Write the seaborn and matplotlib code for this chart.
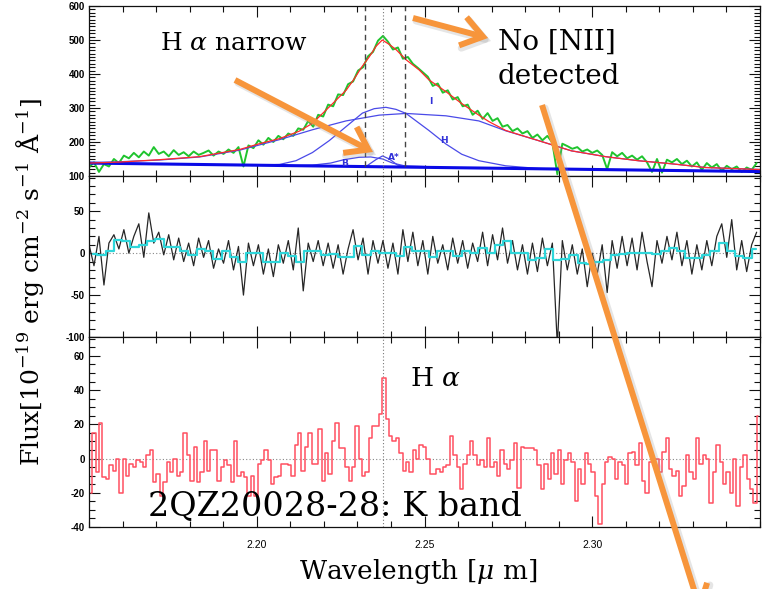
import numpy as np
import matplotlib
matplotlib.use("Agg")
import matplotlib.pyplot as plt
import seaborn as sns
from matplotlib.patches import FancyArrowPatch
from matplotlib.ticker import MultipleLocator

# ---------------- data ----------------
# top panel: observed spectrum (green), sampled every ~5 px
spec_flux = [125,140,112,135,128,150,138,160,152,168,
             155,172,160,185,165,172,158,176,162,170,
             158,172,162,168,175,160,172,165,178,168,
             185,128,190,182,205,192,212,200,218,208,
             225,218,240,236,262,245,280,275,310,305,
             340,338,370,378,410,420,452,465,498,512,
             495,472,478,445,450,430,418,405,392,365,
             372,345,352,325,332,305,310,280,292,268,
             285,262,270,245,250,232,240,225,232,212,
             222,205,218,198,105,195,188,180,185,172,
             178,168,175,162,120,170,158,168,152,160,
             148,158,140,112,150,110,148,140,150,135,
             145,128,140,118,138,125,135,115,130,120,
             128,112,125,118,138]
spec_wave_range = (2.150, 2.349)

# total model (red)
model_wave = [2.1500,2.1592,2.1711,2.1830,2.1949,2.2008,2.2068,2.2127,2.2166,
              2.2216,2.2267,2.2290,2.2314,2.2335,2.2356,2.2374,2.2395,2.2415,
              2.2445,2.2484,2.2513,2.2564,2.2611,2.2662,2.2692,2.2742,2.2840,
              2.2938,2.3039,2.3137,2.3236,2.3337,2.3500]
model_flux = [138,141,148,157,178,195,210,232,255,303,353,385,422,450,482,500,
              487,472,442,412,383,348,313,279,260,234,204,174,157,145,136,125,119]

# continuum (thick blue)
cont_wave = [2.150, 2.350]
cont_flux = [138, 113]

# broad component "I" (incl. continuum)
compI_wave = [2.1500,2.1711,2.1830,2.1949,2.2068,2.2166,2.2266,2.2365,2.2445,
              2.2564,2.2662,2.2742,2.2840,2.2938,2.3039,2.3137,2.3236,2.3337,2.3500]
compI_flux = [138,147,156,176,207,236,262,279,284,277,262,233,204,174,157,145,136,125,119]

# component "H"
compH_wave = [2.1985,2.2068,2.2117,2.2166,2.2216,2.2266,2.2315,2.2350,2.2385,
              2.2415,2.2445,2.2513,2.2564,2.2611,2.2662,2.2742,2.2840,2.3000]
compH_flux = [131,134,145,169,204,245,285,298,302,296,284,234,194,164,145,130,122,119]

# component "B"
compB_wave = [2.2100,2.2166,2.2220,2.2260,2.2305,2.2340,2.2375,2.2405,2.2440,2.2500]
compB_flux = [130,132,138,148,155,156,150,138,130,128]

# narrow component "A*"
compA_wave = [2.2300,2.2330,2.2355,2.2375,2.2395,2.2420,2.2450]
compA_flux = [128,131,148,159,150,132,128]

comp_labels = ["I", "H", "B", "A*"]
comp_label_wave = [2.2518, 2.2558, 2.2263, 2.2409]
comp_label_flux = [318, 204, 137, 154]

# line markers
line_center = 2.2375
line_window = [2.2323, 2.2442]

# middle panel: residual (black) and binned residual (cyan)
resid_flux = [10,-15,20,-38,12,22,5,28,0,20,
              35,-5,48,12,25,-2,22,-8,18,-10,
              12,-15,18,-5,15,-18,5,-12,15,-20,
              8,-50,12,-15,10,-25,5,-28,10,-12,
              15,-20,30,-45,12,-10,15,-15,12,-18,
              10,-25,5,28,-8,18,-25,15,-12,15,
              -18,12,-25,28,-10,25,-15,15,-25,20,
              -12,10,-20,18,-12,15,-18,12,-10,25,
              -15,22,-8,30,-12,15,-20,10,-25,12,
              -22,18,-15,12,-110,15,-20,10,-25,5,
              -40,0,-25,10,-47,15,-18,20,-15,18,
              -20,25,-10,-40,15,-12,20,-8,25,-15,
              15,-25,10,-20,15,-15,20,35,-5,40,
              -20,15,-22,10,25]
binned_resid = [-1,-2,3,16,15,7,10,15,17,7,7,3,-2,5,2,-7,3,-5,-10,0,0,-10,-10,0,-3,
                -10,2,3,-2,-1,-5,-4,8,-2,3,0,0,-3,7,
                2,2,-4,2,2,-3,2,0,6,0,10,15,0,0,-8,-6,5,-8,-7,-2,-12,-13,-11,-8,-2,
                -1,0,0,0,-1,2,6,3,-6,-6,-2,3,12,2,-3,-6,5]

# bottom panel: narrow-line residual spectrum (red histogram)
narrow_flux = [-20,15,-8,21,-11,-12,-4,-7,0,-20,0,-10,-3,-5,-1,-2,-5,2,5,-14,
               -9,-22,-14,-2,-8,0,-10,-8,15,2,-13,7,-14,-8,10,-7,5,5,-13,-5,
               -1,-4,-14,10,-10,-8,-11,-22,-10,-22,-3,-1,5,-1,-15,-11,-10,-3,-3,-4,
               -10,8,15,-7,7,15,-3,-3,17,-13,3,-9,10,21,6,6,-5,-13,-5,19,
               0,-10,-8,12,19,19,26,47,23,13,10,12,
               3,-7,-2,-8,5,0,8,7,0,-9,-9,-6,-8,-5,-4,13,2,-5,-18,-3,
               2,10,2,-4,-1,-5,12,-5,-2,-10,5,-3,-6,-1,9,-17,7,6,6,6,
               5,-4,-18,-3,-12,3,-9,5,-15,-1,3,-2,-25,-6,-15,3,-3,-8,-22,-38,
               -15,-2,1,0,-12,-2,-4,-15,3,4,-4,9,-13,-20,-2,0,0,-8,4,12,
               -6,-10,-7,-22,-16,2,-8,-12,12,-3,2,0,-26,-8,8,-2,-15,-8,-20,0,
               -28,-5,2,-12,-18,-26,25]

x_ticks = [2.20, 2.25, 2.30]
x_tick_labels = ["2.20", "2.25", "2.30"]
top_yticks = [100, 200, 300, 400, 500, 600]
mid_yticks = [-100, -50, 0, 50]
bot_yticks = [-40, -20, 0, 20, 40, 60]

# ---------------- figure ----------------
sns.set_theme(style="white")
plt.rcParams["font.family"] = ["DejaVu Serif"]
plt.rcParams["mathtext.fontset"] = "dejavuserif"
plt.rcParams["text.color"] = "black"

W, H = 764, 589
fig = plt.figure(figsize=(W / 100, H / 100), dpi=100)
fig.patch.set_facecolor("white")


def box(l, t, r, b):
    return [l / W, 1 - b / H, (r - l) / W, (b - t) / H]


ax1 = fig.add_axes(box(89, 6, 760, 176))
ax2 = fig.add_axes(box(89, 176, 760, 337))
ax3 = fig.add_axes(box(89, 337, 760, 527))

spec_wave = np.linspace(spec_wave_range[0], spec_wave_range[1], len(spec_flux))
resid_wave = np.linspace(spec_wave_range[0], spec_wave_range[1], len(resid_flux))
nb = len(binned_resid)
binned_wave = np.linspace(2.15 + 0.1 / nb, 2.35 - 0.1 / nb, nb)
nn = len(narrow_flux)
narrow_wave = np.linspace(2.15 + 0.1 / nn, 2.35 - 0.1 / nn, nn)

blue_thin = "#4a4ae8"
# top panel
sns.lineplot(x=spec_wave, y=spec_flux, ax=ax1, color="#1fc42e", lw=1.4,
             estimator=None, sort=False)
for wv, fl in [(compI_wave, compI_flux), (compH_wave, compH_flux),
               (compB_wave, compB_flux), (compA_wave, compA_flux)]:
    sns.lineplot(x=wv, y=fl, ax=ax1, color=blue_thin, lw=0.9, estimator=None, sort=False)
sns.lineplot(x=cont_wave, y=cont_flux, ax=ax1, color="#0a0ae6", lw=2.2,
             estimator=None, sort=False)
sns.lineplot(x=model_wave, y=model_flux, ax=ax1, color="#ff2a2a", lw=0.9,
             estimator=None, sort=False)
for lab, lw_, lf in zip(comp_labels, comp_label_wave, comp_label_flux):
    ax1.text(lw_, lf, lab, color="#3030d8", fontsize=6.5, ha="center", va="center",
             family="DejaVu Sans", fontweight="bold")
for v in line_window:
    ax1.axvline(v, color="#444444", lw=1.0, ls=(0, (4, 3)))
ax1.axvline(line_center, color="#777777", lw=0.8, ls=(0, (1, 2)))

# middle panel
ax2.axhline(0, color="#888888", lw=0.8, ls=(0, (1, 2)))
ax2.axvline(line_center, color="#777777", lw=0.8, ls=(0, (1, 2)))
sns.lineplot(x=resid_wave, y=resid_flux, ax=ax2, color="#262626", lw=0.9,
             estimator=None, sort=False)
sns.lineplot(x=binned_wave, y=binned_resid, ax=ax2, color="#2ed6da", lw=1.6,
             estimator=None, sort=False, drawstyle="steps-mid")

# bottom panel
ax3.axhline(0, color="#888888", lw=0.8, ls=(0, (1, 2)))
ax3.axvline(line_center, color="#777777", lw=0.8, ls=(0, (1, 2)))
sns.lineplot(x=narrow_wave, y=narrow_flux, ax=ax3, color="#ff4f60", lw=1.1,
             estimator=None, sort=False, drawstyle="steps-mid")

# axes styling
limits = [(ax1, (100, 600), top_yticks, 100, 10),
          (ax2, (-100, 92), mid_yticks, 50, 10),
          (ax3, (-40, 71), bot_yticks, 20, 5)]
for ax, yl, yt, ymaj, ymin in limits:
    ax.set_xlim(2.15, 2.35)
    ax.set_ylim(*yl)
    ax.set_facecolor("white")
    ax.set_xticks(x_ticks, labels=x_tick_labels, fontsize=7.5, family="Liberation Sans")
    ax.xaxis.set_minor_locator(MultipleLocator(0.01))
    ax.set_yticks(yt, labels=[str(t) for t in yt], fontsize=7, fontweight="bold",
                  family="Liberation Sans")
    ax.yaxis.set_minor_locator(MultipleLocator(ymin))
    ax.tick_params(which="both", direction="in", top=True, right=True,
                   bottom=True, left=True,
                   width=0.8, color="#111111", labelcolor="black")
    ax.tick_params(which="major", length=8)
    ax.tick_params(which="minor", length=4)
    ax.tick_params(axis="y", pad=3)
    ax.tick_params(axis="x", pad=9)
    ax.set_xlabel("")
    ax.set_ylabel("")
    for s in ax.spines.values():
        s.set_color("#111111")
        s.set_linewidth(0.9)
ax1.tick_params(labelbottom=False)
ax2.tick_params(labelbottom=False)

# texts
def ftext(x, y, s, **kw):
    fig.text(x / W, 1 - y / H, s, color="black", **kw)

ftext(160, 43, r"H $\alpha$ narrow", fontsize=18, ha="left", va="center")
ftext(498, 42, "No [NII]", fontsize=20, ha="left", va="center")
ftext(498, 77, "detected", fontsize=20, ha="left", va="center")
ftext(410, 378, r"H $\alpha$", fontsize=19, ha="left", va="center")
ftext(148, 506, "2QZ20028-28: K band", fontsize=24, ha="left", va="center")
ftext(418, 572, r"Wavelength [$\mu$ m]", fontsize=19, ha="center", va="center")
ftext(30, 282, r"Flux[10$^{-19}$ erg cm$^{-2}$ s$^{-1}$ Å$^{-1}$]", fontsize=18,
      ha="center", va="center", rotation=90)

# orange arrows with soft shadow
arrows = [((235, 80), (373, 152)), ((413, 18), (488, 38)), ((542, 105), (701, 612))]
for (x0, y0), (x1, y1) in arrows:
    sh = FancyArrowPatch((x0 / W + 3 / W, 1 - (y0 + 3) / H), (x1 / W + 3 / W, 1 - (y1 + 3) / H),
                         transform=fig.transFigure, arrowstyle="->,head_length=0.5,head_width=0.35",
                         mutation_scale=30, lw=5, color="#999999", alpha=0.25,
                         shrinkA=0, shrinkB=0, joinstyle="miter")
    fig.add_artist(sh)
    ar = FancyArrowPatch((x0 / W, 1 - y0 / H), (x1 / W, 1 - y1 / H),
                         transform=fig.transFigure, arrowstyle="->,head_length=0.5,head_width=0.35",
                         mutation_scale=30, lw=4.3, color="#f7953b",
                         shrinkA=0, shrinkB=0, joinstyle="miter", capstyle="butt")
    fig.add_artist(ar)

fig.savefig("out.png", dpi=100)
